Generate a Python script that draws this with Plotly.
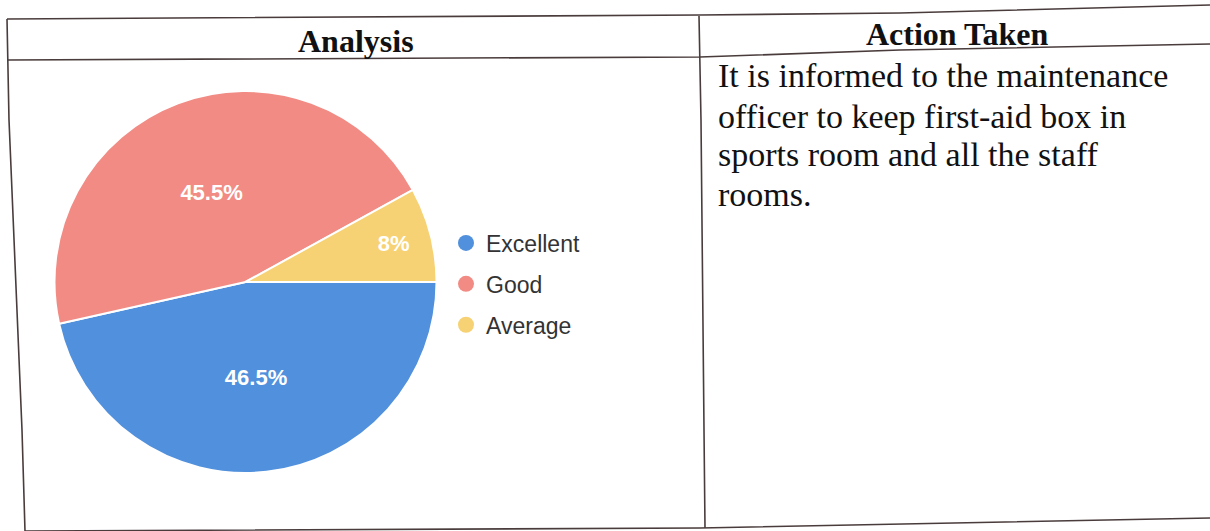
import plotly.graph_objects as go

W, H = 1210, 531

categories = ["Excellent", "Good", "Average"]
percentages = [46.5, 45.5, 8]
slice_colors = ["#5090dc", "#f18b84", "#f6d274"]

header_labels = ["Analysis", "Action Taken"]
action_lines = [
    "It is informed to the maintenance",
    "officer to keep first-aid box in",
    "sports room and all the staff",
    "rooms.",
]


def px(x, y):
    # window pixel position -> paper coords
    return x / W, 1 - y / H


def path(points):
    parts = []
    for i, (x, y) in enumerate(points):
        a, b = px(x, y)
        parts.append(("M" if i == 0 else "L") + f"{a:.5f},{b:.5f}")
    return " ".join(parts)


fig = go.Figure()

x0, y1 = px(54, 91)
x1, y0 = px(437, 473)
fig.add_trace(go.Pie(
    labels=categories,
    values=percentages,
    sort=False,
    direction="clockwise",
    rotation=90,
    texttemplate="<b>%{value}%</b>",
    textposition="inside",
    insidetextorientation="horizontal",
    textfont=dict(color="white", size=22, family="Liberation Sans, Arial"),
    marker=dict(colors=slice_colors, line=dict(color="white", width=2)),
    domain=dict(x=[x0, x1], y=[y0, y1]),
    showlegend=False,
))

# legend with round markers
for name, c in zip(categories, slice_colors):
    fig.add_trace(go.Scatter(
        x=[None], y=[None], mode="markers", name=name, legendgroup=name,
        marker=dict(size=18, color=c, symbol="circle"),
    ))

# table rules (the scan is slightly skewed)
line_style = dict(color="#4a3c3c", width=1.6)
rules = [
    [(7, 19), (700, 15), (900, 13), (1210, 5)],
    [(7, 60), (700, 57), (900, 50), (1210, 44)],
    [(25, 531), (700, 528), (1210, 518)],
    [(7, 19), (9, 120), (22, 430), (25, 531)],
    [(699, 16), (701, 120), (704, 430), (705, 528)],
]
for pts in rules:
    fig.add_shape(type="path", path=path(pts), xref="paper", yref="paper", line=line_style)

serif = "Liberation Serif, Times New Roman, serif"
for label, (cx, cy) in zip(header_labels, [(356, 41), (957, 34)]):
    ax, ay = px(cx, cy)
    fig.add_annotation(text=f"<b>{label}</b>", x=ax, y=ay, xref="paper", yref="paper",
                       xanchor="center", yanchor="middle", showarrow=False,
                       font=dict(family=serif, size=32, color="#111"))

for line, base in zip(action_lines, [87, 127, 166, 205]):
    ax, ay = px(716, base - 11)
    fig.add_annotation(text=line, x=ax, y=ay, xref="paper", yref="paper",
                       xanchor="left", yanchor="middle", showarrow=False,
                       font=dict(family=serif, size=34, color="#111"))

lx, ly = px(446, 284)
fig.update_layout(
    width=W, height=H,
    margin=dict(l=0, r=0, t=0, b=0),
    paper_bgcolor="white", plot_bgcolor="white",
    xaxis=dict(visible=False), yaxis=dict(visible=False),
    legend=dict(x=lx, y=ly, xanchor="left", yanchor="middle",
                font=dict(family="Liberation Sans, Arial", size=23, color="#333"),
                tracegroupgap=8, bgcolor="rgba(0,0,0,0)"),
)

fig.write_html("out.html", config={"displayModeBar": False},
               post_script="document.body.style.margin = '0';")
